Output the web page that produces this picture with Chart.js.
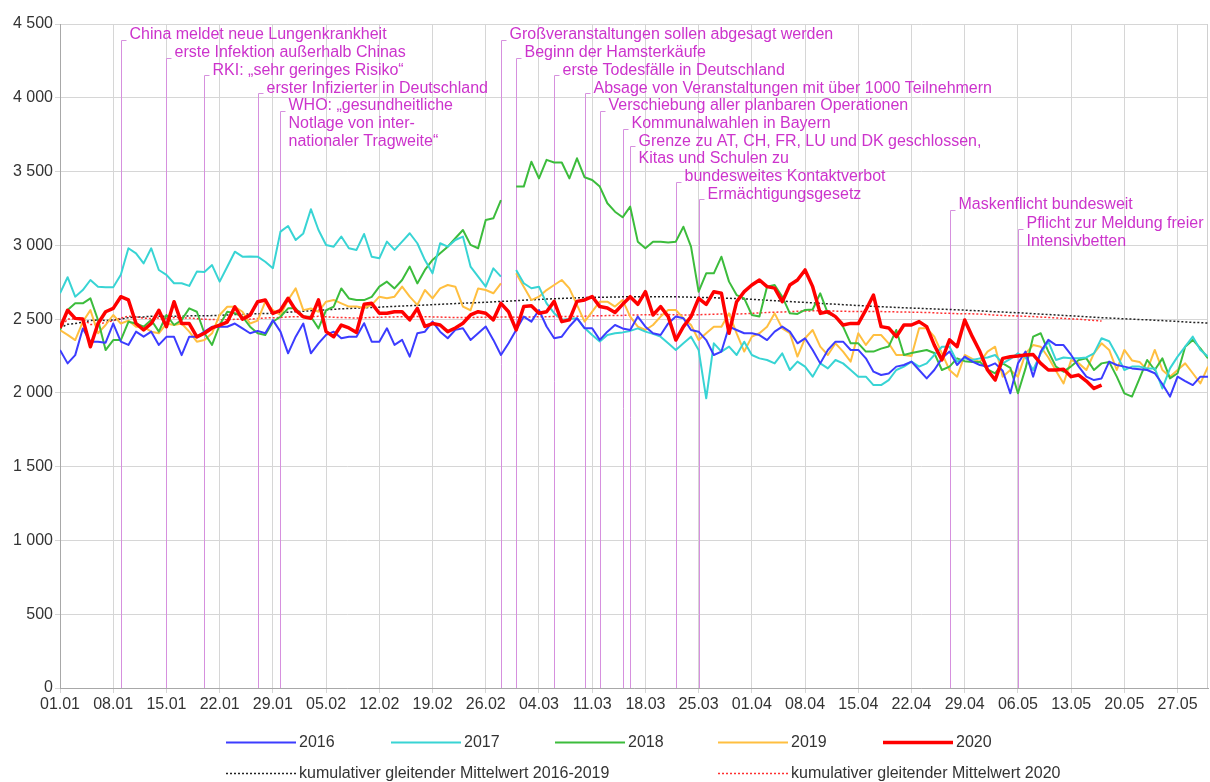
<!DOCTYPE html>
<html>
<head>
<meta charset="utf-8">
<script src="https://cdn.jsdelivr.net/npm/chart.js@4.4.1/dist/chart.umd.min.js"></script>
<style>
html,body{margin:0;padding:0;background:#fff;}
#wrap{width:1210px;height:782px;position:relative;}
</style>
</head>
<body>
<div id="wrap"><canvas id="c" width="1210" height="782"></canvas></div>
<script>
// ---- data ----
const xTickLabels = ['01.01','08.01','15.01','22.01','29.01','05.02','12.02','19.02','26.02','04.03','11.03','18.03','25.03','01.04','08.04','15.04','22.04','29.04','06.05','13.05','20.05','27.05'];
const seriesNames = ['2016','2017','2018','2019','2020'];
const avgNames = ['kumulativer gleitender Mittelwert 2016-2019','kumulativer gleitender Mittelwert 2020'];

const s2016 = [
2290,2200,2256,2437,2347,2347,2340,2470,2347,2325,
2415,2381,2415,2325,2380,2380,2256,2381,2381,2415,
2448,2448,2448,2470,2437,2404,2420,2404,2493,2415,
2268,2381,2470,2268,2336,2393,2415,2370,2381,2381,
2472,2347,2347,2438,2325,2359,2246,2404,2415,2483,
2415,2370,2427,2438,2359,2404,2450,2359,2257,2336,
2427,2517,2483,2562,2450,2370,2381,2450,2506,2438,
2438,2359,2415,2460,2437,2426,2517,2449,2404,2392,
2471,2517,2506,2426,2415,2358,2257,2280,2449,2426,
2404,2404,2392,2358,2415,2449,2415,2336,2370,2291,
2200,2291,2347,2347,2291,2291,2234,2144,2121,2132,
2178,2189,2212,2155,2098,2155,2234,2280,2189,2246,
2212,2189,2178,2200,2150,1997,2200,2280,2110,2280,
2359,2324,2324,2257,2178,2110,2087,2098,2212,2189,
2178,2166,2160,2155,2133,2060,1975,2110,2080,2053,
2110,2110];

const s2017 = [
2675,2784,2652,2697,2765,2720,2716,2716,2800,2980,
2946,2878,2980,2833,2800,2743,2743,2725,2822,2820,
2866,2754,2855,2957,2923,2925,2923,2889,2845,3093,
3131,3036,3081,3245,3104,3002,2991,3060,2980,2969,
3077,2923,2912,3025,2969,3025,3082,3014,2900,2810,
3014,2991,3036,3059,2856,2788,2720,2844,2788,null,
2833,2743,2709,2720,2607,2540,2495,2500,2506,2439,
2393,2348,2393,2404,2410,2420,2437,2415,2400,2381,
2336,2291,2336,2381,2291,1963,2336,2280,2314,2257,
2347,2257,2234,2223,2200,2268,2155,2212,2178,2110,
2200,2166,2223,2200,2155,2110,2110,2053,2053,2087,
2155,2178,2212,2178,2200,2257,2313,2313,2212,2234,
2223,2234,2240,2257,2200,2230,2268,2240,2155,2268,
2347,2223,2240,2235,2235,2240,2268,2370,2350,2257,
2155,2178,2178,2166,2166,2030,2166,2246,2313,2381,
2291,2246];

const s2018 = [
2426,2561,2607,2607,2641,2494,2290,2358,2358,2482,
2470,2449,2494,2415,2528,2460,2494,2573,2550,2404,
2325,2460,2550,2540,2516,2449,2404,2393,2482,2516,
2573,2573,2516,2516,2437,2561,2584,2708,2640,2629,
2629,2651,2720,2754,2708,2765,2856,2742,2833,2901,
2946,2991,3048,3104,3003,2980,3172,3183,3307,null,
3398,3398,3567,3454,3579,3561,3561,3454,3590,3461,
3443,3398,3285,3228,3190,3262,3025,2980,3025,3025,
3020,3025,3126,2991,2686,2810,2810,2923,2754,2663,
2641,2528,2517,2720,2731,2652,2539,2535,2562,2565,
2675,2539,2517,2449,2336,2336,2280,2280,2300,2314,
2426,2257,2270,2280,2291,2270,2155,2178,2234,2215,
2210,2210,2160,2133,2200,2170,1997,2166,2381,2404,
2280,2178,2144,2180,2223,2234,2155,2200,2210,2110,
1997,1975,2098,2223,2155,2234,2098,2133,2313,2359,
2302,2234];

const s2019 = [
2426,2393,2358,2482,2561,2404,2460,2528,2470,2490,
2448,2448,2415,2404,2470,2460,2470,2415,2347,2358,
2404,2528,2584,2584,2550,2470,2490,2618,2561,2528,
2630,2708,2561,2572,2550,2618,2630,2607,2585,2585,
2575,2596,2652,2641,2652,2720,2652,2596,2697,2641,
2708,2731,2720,2585,2560,2708,2697,2675,2742,null,
2810,2720,2629,2652,2697,2731,2765,2708,2596,2483,
2550,2618,2618,2585,2629,2517,2449,2426,2460,2517,
2562,2562,2505,2460,2358,2404,2449,2449,2539,2404,
2280,2381,2404,2449,2539,2437,2404,2246,2370,2426,
2314,2257,2336,2280,2212,2404,2325,2392,2392,2336,
2257,2257,2250,2438,2438,2381,2268,2155,2110,2257,
2230,2210,2280,2313,2110,2155,2110,2268,2324,2313,
2240,2150,2064,2223,2200,2155,2268,2336,2291,2155,
2291,2220,2210,2155,2291,2155,2110,2155,2200,2133,
2064,2178];

const s2020 = [
2440,2560,2505,2500,2313,2470,2550,2573,2652,2630,
2470,2426,2470,2560,2448,2618,2470,2470,2380,2404,
2440,2460,2480,2583,2500,2527,2618,2630,2538,2560,
2641,2560,2516,2505,2630,2415,2381,2460,2440,2410,
2600,2607,2540,2540,2550,2550,2495,2573,2450,2470,
2460,2415,2440,2472,2528,2550,2540,2495,2607,2550,
2427,2585,2590,2540,2550,2620,2483,2495,2620,2630,
2653,2585,2575,2545,2600,2652,2600,2686,2528,2585,
2517,2358,2449,2517,2641,2600,2686,2675,2404,2618,
2686,2731,2765,2720,2710,2618,2731,2765,2833,2720,
2539,2550,2517,2460,2471,2470,2562,2663,2449,2440,
2381,2460,2460,2483,2449,2324,2223,2359,2313,2494,
2381,2280,2155,2087,2234,2245,2250,2257,2260,2200,
2155,2155,2160,2110,2121,2080,2030,2053];

const avg1619 = [
2440,2465,2470,2480,2490,2495,2490,2495,2500,2510,
2515,2515,2520,2520,2520,2520,2520,2522,2522,2522,
2524,2526,2528,2531,2533,2535,2536,2538,2540,2543,
2547,2550,2553,2557,2560,2563,2566,2570,2572,2574,
2577,2579,2581,2584,2586,2589,2591,2593,2595,2598,
2600,2603,2605,2608,2610,2612,2614,2617,2620,2622,
2625,2628,2631,2633,2636,2638,2640,2642,2644,2646,
2647,2648,2649,2650,2651,2652,2652,2652,2652,2652,
2651,2651,2650,2649,2648,2646,2645,2643,2641,2639,
2637,2634,2631,2628,2625,2622,2619,2616,2613,2610,
2607,2604,2601,2598,2595,2592,2589,2587,2584,2582,
2579,2577,2575,2573,2571,2569,2567,2565,2563,2561,
2558,2556,2553,2550,2548,2545,2543,2540,2537,2534,
2531,2528,2525,2522,2519,2516,2513,2510,2507,2505,
2502,2500,2497,2495,2492,2490,2487,2484,2481,2478,
2476,2473];

const avg2020 = [
2440,2500,2502,2501,2464,2465,2477,2489,2507,2520,
2515,2507,2504,2508,2504,2511,2509,2507,2503,2499,
2497,2496,2495,2499,2499,2500,2504,2508,2509,2511,
2515,2516,2516,2516,2519,2516,2512,2511,2509,2507,
2509,2512,2513,2514,2515,2516,2516,2517,2516,2515,
2514,2512,2511,2511,2511,2512,2513,2512,2514,2515,
2513,2514,2515,2516,2516,2518,2517,2517,2519,2520,
2522,2523,2524,2524,2525,2527,2528,2530,2530,2531,
2531,2529,2528,2528,2530,2531,2533,2535,2533,2534,
2536,2539,2542,2545,2547,2548,2550,2553,2555,2556,
2556,2555,2554,2553,2552,2551,2551,2552,2551,2550,
2549,2548,2547,2546,2545,2543,2540,2539,2537,2537,
2536,2534,2531,2527,2525,2523,2521,2519,2517,2514,
2511,2508,2505,2502,2499,2495,2491,2487];

const eventDays = [8,14,19,26,29,58,60,65,69,71,74,75,81,84,117,126];
const eventTexts = [
  ['China meldet neue Lungenkrankheit'],
  ['erste Infektion außerhalb Chinas'],
  ['RKI: „sehr geringes Risiko“'],
  ['erster Infizierter in Deutschland'],
  ['WHO: „gesundheitliche','Notlage von inter-','nationaler Tragweite“'],
  ['Großveranstaltungen sollen abgesagt werden'],
  ['Beginn der Hamsterkäufe'],
  ['erste Todesfälle in Deutschland'],
  ['Absage von Veranstaltungen mit über 1000 Teilnehmern'],
  ['Verschiebung aller planbaren Operationen'],
  ['Kommunalwahlen in Bayern'],
  ['Grenze zu AT, CH, FR, LU und DK geschlossen,','Kitas und Schulen zu'],
  ['bundesweites Kontaktverbot'],
  ['Ermächtigungsgesetz'],
  ['Maskenflicht bundesweit'],
  ['Pflicht zur Meldung freier','Intensivbetten']
];

// ---- layout / style ----
const eventRows = [0,1,2,3,4,0,1,2,3,4,5,6,8,9,9.6,10.65];
const FONT = '"Liberation Sans", Arial, sans-serif';
const colors = ['#3c3cff','#38d4d4','#3cbc3c','#ffbf40','#ff0000'];
const toXY = arr => arr.map((v,i)=>({x:i,y:v}));

const eventsPlugin = {
  id:'events',
  beforeDatasetsDraw(chart){
    const {ctx, chartArea, scales:{x}} = chart;
    ctx.save();
    ctx.font = '16px ' + FONT;
    ctx.textBaseline = 'middle';
    ctx.textAlign = 'left';
    eventDays.forEach((d,i)=>{
      const px = Math.round(x.getPixelForValue(d)) + 0.5;
      const ty = 35 + eventRows[i]*17.7;
      const hy = Math.round(ty + 5) + 0.5;
      ctx.strokeStyle = '#d690de';
      ctx.lineWidth = 1;
      ctx.beginPath();
      ctx.moveTo(px, chartArea.bottom);
      ctx.lineTo(px, hy);
      ctx.lineTo(px + 5, hy);
      ctx.stroke();
      ctx.fillStyle = '#cc33cc';
      eventTexts[i].forEach((t,j)=>ctx.fillText(t, px + 8, ty + j*17.7));
    });
    // right border
    ctx.strokeStyle = '#d0d0d0';
    ctx.beginPath();
    ctx.moveTo(chartArea.right - 0.5, chartArea.top);
    ctx.lineTo(chartArea.right - 0.5, chartArea.bottom);
    ctx.stroke();
    ctx.restore();
  }
};

const legendPlugin = {
  id:'customLegend',
  afterDraw(chart){
    const ctx = chart.ctx;
    ctx.save();
    ctx.font = '16px ' + FONT;
    ctx.textBaseline = 'middle';
    ctx.fillStyle = '#333';
    const row1 = [226,391,555,718,883];
    seriesNames.forEach((n,i)=>{
      const y = 742.5;
      ctx.strokeStyle = colors[i];
      ctx.lineWidth = i===4 ? 3.5 : 2;
      ctx.setLineDash([]);
      ctx.beginPath(); ctx.moveTo(row1[i], y); ctx.lineTo(row1[i]+70, y); ctx.stroke();
      ctx.fillText(n, row1[i]+73, y);
    });
    const row2 = [226,718];
    const avgCols = ['#222','#ff3030'];
    avgNames.forEach((n,i)=>{
      const y = 773.5;
      ctx.strokeStyle = avgCols[i];
      ctx.lineWidth = 1.5;
      ctx.setLineDash([2,2]);
      ctx.beginPath(); ctx.moveTo(row2[i], y); ctx.lineTo(row2[i]+70, y); ctx.stroke();
      ctx.fillText(n, row2[i]+73, y);
    });
    ctx.restore();
  }
};

const fmt = v => v >= 1000 ? Math.floor(v/1000) + ' ' + String(v % 1000).padStart(3,'0') : String(v);

new Chart(document.getElementById('c'), {
  type:'line',
  data:{
    datasets:[
      {label:seriesNames[4], data:toXY(s2020), borderColor:colors[4], borderWidth:3.5},
      {label:seriesNames[0], data:toXY(s2016), borderColor:colors[0], borderWidth:2},
      {label:seriesNames[1], data:toXY(s2017), borderColor:colors[1], borderWidth:2},
      {label:seriesNames[2], data:toXY(s2018), borderColor:colors[2], borderWidth:2},
      {label:seriesNames[3], data:toXY(s2019), borderColor:colors[3], borderWidth:2},
      {label:avgNames[0], data:toXY(avg1619), borderColor:'#222', borderWidth:1.5, borderDash:[2,2]},
      {label:avgNames[1], data:toXY(avg2020), borderColor:'#ff3030', borderWidth:1.5, borderDash:[2,2]}
    ]
  },
  options:{
    responsive:false,
    animation:false,
    devicePixelRatio:1,
    spanGaps:false,
    elements:{point:{radius:0}, line:{tension:0, borderJoinStyle:'round'}},
    layout:{padding:{top:24, right:2, bottom:64, left:0}},
    plugins:{legend:{display:false}, tooltip:{enabled:false}},
    scales:{
      x:{
        type:'linear', min:0, max:151,
        afterBuildTicks: s => { s.ticks = xTickLabels.map((_,i)=>({value:i*7})); },
        afterFit: s => { s.height = 30; },
        grid:{color:'#d6d6d6', tickLength:5, drawTicks:true},
        border:{color:'#a8a8a8'},
        ticks:{
          padding:2, maxRotation:0, autoSkip:false,
          color:'#333', font:{size:16, family:FONT},
          callback: v => xTickLabels[Math.round(v/7)]
        }
      },
      y:{
        min:0, max:4500,
        afterFit: s => { s.width = 60; },
        grid:{color:'#d6d6d6', tickLength:5},
        border:{color:'#a8a8a8'},
        ticks:{stepSize:500, padding:2, color:'#333', font:{size:16, family:FONT}, callback: v => fmt(v)}
      }
    }
  },
  plugins:[eventsPlugin, legendPlugin]
});
</script>
</body>
</html>
